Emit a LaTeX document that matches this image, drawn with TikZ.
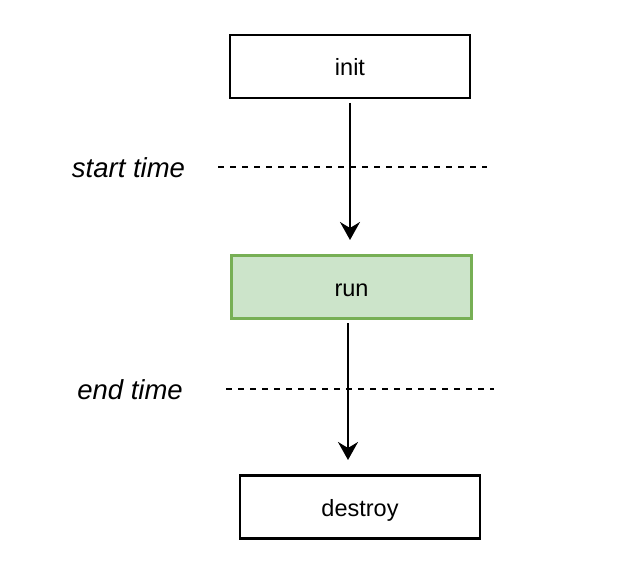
\documentclass[tikz,border=0pt]{standalone}
\usepackage{fontspec}
\setmainfont{Liberation Sans}
\usetikzlibrary{arrows.meta}
\definecolor{gfill}{HTML}{CCE4CA}
\definecolor{gline}{HTML}{77AF55}
\newcommand{\lowtext}[1]{\raisebox{-3pt}[18pt][5pt]{#1}}
\begin{document}
\begin{tikzpicture}[x=1pt,y=-1pt,
  box/.style={draw=black,line width=2.2pt,minimum width=240pt,minimum height=63pt,inner sep=0pt,font=\fontsize{23.5}{28}\selectfont},
  greenbox/.style={box,draw=gline,fill=gfill},
  conn/.style={line width=2.2pt,-{Stealth[length=18pt,width=20pt,inset=6pt]}},
  tline/.style={line width=2.2pt,dash pattern=on 6pt off 6pt},
  tlabel/.style={font=\fontsize{27.5}{32}\selectfont\itshape,inner sep=0pt}]
\useasboundingbox (0,0) rectangle (640,575);
\node[box] (init) at (350,66.5) {\lowtext{init}};
\node[greenbox] (run) at (351.5,287) {\lowtext{run}};
\node[box] (destroy) at (360,507) {\lowtext{destroy}};
\coordinate (a1s) at (350,103);
\coordinate (a1e) at (350,240);
\coordinate (a2s) at (348,323);
\coordinate (a2e) at (348,460);
\draw[conn] (a1s) -- (a1e);
\draw[conn] (a2s) -- (a2e);
\coordinate (d1a) at (218,166.7);
\coordinate (d1b) at (487,166.7);
\coordinate (d2a) at (226,388.7);
\coordinate (d2b) at (494,388.7);
\draw[tline] (d1a) -- (d1b);
\draw[tline] (d2a) -- (d2b);
\node[tlabel] (st) at (128.5,168) {start time};
\node[tlabel] (et) at (130,390) {end time};
\end{tikzpicture}
\end{document}
